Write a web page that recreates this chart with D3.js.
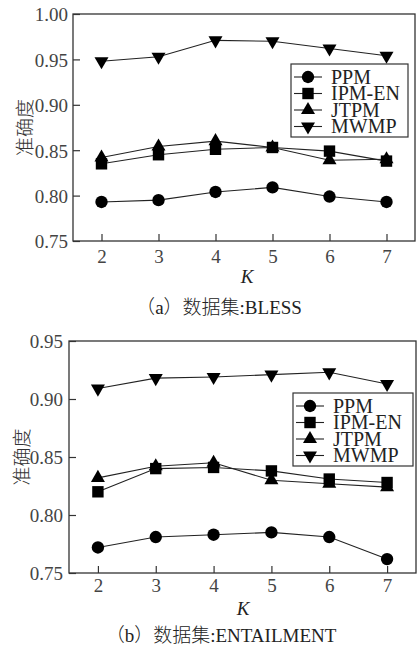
<!DOCTYPE html>
<html>
<head>
<meta charset="utf-8">
<script src="https://cdn.jsdelivr.net/npm/d3@7"></script>
<style>
  body { margin: 0; background: #fff; }
  svg text, svg tspan { font-family: "Liberation Serif", "Times New Roman", serif; fill: #222; }
  svg text .cjk { font-family: "Noto Sans CJK SC"; font-weight: 300; }
</style>
</head>
<body>
<div id="graphicContainer"></div>
<script>

// x values
const kValues = [2, 3, 4, 5, 6, 7]

const seriesNames = ["PPM", "IPM-EN", "JTPM", "MWMP"]

// (a) BLESS
const blessPPM = [0.793, 0.795, 0.804, 0.809, 0.799, 0.793]
const blessIPMEN = [0.835, 0.845, 0.851, 0.853, 0.849, 0.838]
const blessJTPM = [0.842, 0.854, 0.860, 0.853, 0.839, 0.840]
const blessMWMP = [0.948, 0.953, 0.971, 0.970, 0.962, 0.954]
const blessTicks = [0.75, 0.80, 0.85, 0.90, 0.95, 1.00]

// (b) ENTAILMENT
const entPPM = [0.772, 0.781, 0.783, 0.785, 0.781, 0.762]
const entIPMEN = [0.820, 0.840, 0.841, 0.838, 0.831, 0.828]
const entJTPM = [0.832, 0.842, 0.845, 0.830, 0.827, 0.824]
const entMWMP = [0.909, 0.918, 0.919, 0.921, 0.923, 0.913]
const entTicks = [0.75, 0.80, 0.85, 0.90, 0.95]

const symbols = {
  "PPM": d3.symbolCircle,
  "IPM-EN": d3.symbolSquare,
  "JTPM": d3.symbolTriangle,
  "MWMP": d3.symbolTriangle
}
const symbolSize = {
  "PPM": 120,
  "IPM-EN": 130,
  "JTPM": 85,
  "MWMP": 85
}

const svg = d3.select("#graphicContainer")
  .append("svg")
  .attr("width", 417)
  .attr("height", 649)

function drawMarker(g, name, cx, cy) {
  g.append("path")
    .attr("d", d3.symbol().type(symbols[name]).size(symbolSize[name]))
    .attr("transform", "translate(" + cx + "," + cy + ")" + (name == "MWMP" ? " rotate(180)" : ""))
    .attr("fill", "#000")
}

function drawPanel(opts) {

  let { left, right, top, bottom, yDomain, yTicks, series, labelEnd, xLabelBase, kBase, kX, caption, capX, capBase, yLabelX, legend } = opts

  const x = d3.scaleLinear().domain([1.5, 7.5]).range([left, right])
  const y = d3.scaleLinear().domain(yDomain).range([bottom, top])

  const g = svg.append("g")

  // frame
  g.append("rect")
    .attr("x", left)
    .attr("y", top)
    .attr("width", right - left)
    .attr("height", bottom - top)
    .attr("fill", "none")
    .attr("stroke", "#333")
    .attr("stroke-width", 1.3)

  const yAxis = d3.axisLeft(y)
    .tickValues(yTicks)
    .tickFormat(d3.format(".2f"))
    .tickSizeInner(-7)
    .tickSizeOuter(0)

  const ya = g.append("g")
    .attr("transform", "translate(" + left + ",0)")
    .call(yAxis)
  ya.attr("font-family", null)
  ya.select(".domain").remove()
  ya.selectAll(".tick line").attr("stroke", "#333").attr("stroke-width", 1.2)
  ya.selectAll(".tick text")
    .attr("x", labelEnd - left)
    .attr("dy", "0.36em")
    .attr("font-size", 19)
    .style("fill", "#444")

  const xAxis = d3.axisBottom(x)
    .tickValues(kValues)
    .tickFormat(d3.format("d"))
    .tickSizeInner(-7)
    .tickSizeOuter(0)

  const xa = g.append("g")
    .attr("transform", "translate(0," + bottom + ")")
    .call(xAxis)
  xa.attr("font-family", null)
  xa.select(".domain").remove()
  xa.selectAll(".tick line").attr("stroke", "#333").attr("stroke-width", 1.2)
  xa.selectAll(".tick text")
    .attr("y", xLabelBase - bottom)
    .attr("dy", 0)
    .attr("font-size", 19)
    .style("fill", "#444")

  const line = d3.line()
    .x((d, i) => x(kValues[i]))
    .y((d) => y(d))

  series.forEach((s) => {
    g.append("path")
      .datum(s.values)
      .attr("d", line)
      .attr("fill", "none")
      .attr("stroke", "#222")
      .attr("stroke-width", 1.1)
  })

  series.forEach((s) => {
    s.values.forEach((v, i) => {
      drawMarker(g, s.name, x(kValues[i]), y(v))
    })
  })

  // legend
  const lg = g.append("g")
  lg.append("rect")
    .attr("x", legend.x)
    .attr("y", legend.y)
    .attr("width", legend.w)
    .attr("height", legend.h)
    .attr("fill", "#fff")
    .attr("stroke", "#333")
    .attr("stroke-width", 1.2)

  seriesNames.forEach((name, i) => {
    const cy = legend.y + 13 + i * 16.5
    lg.append("line")
      .attr("x1", legend.x + 3)
      .attr("x2", legend.x + 31)
      .attr("y1", cy)
      .attr("y2", cy)
      .attr("stroke", "#222")
      .attr("stroke-width", 1.1)
    drawMarker(lg, name, legend.x + 17, cy)
    lg.append("text")
      .attr("x", legend.x + 40)
      .attr("y", cy + 6.5)
      .attr("font-size", 20)
      .attr("fill", "#222")
      .text(name)
  })

  // axis titles
  g.append("text")
    .attr("x", kX)
    .attr("y", kBase)
    .attr("text-anchor", "middle")
    .attr("font-size", 19)
    .attr("font-style", "italic")
    .text("K")

  g.append("text")
    .attr("transform", "translate(" + yLabelX + "," + ((top + bottom) / 2) + ") rotate(-90)")
    .attr("text-anchor", "middle")
    .attr("font-size", 19)
    .style("font-family", "Noto Sans CJK SC")
    .style("font-weight", 300)
    .style("fill", "#333")
    .text("准确度")

  const cap = g.append("text")
    .attr("x", capX)
    .attr("y", capBase)
    .attr("text-anchor", "middle")
    .attr("font-size", 19)
  cap.append("tspan").attr("class", "cjk").text("（")
  cap.append("tspan").text(caption.letter)
  cap.append("tspan").attr("class", "cjk").text("）数据集")
  cap.append("tspan").text(":" + caption.name)
}

drawPanel({
  left: 73, right: 415, top: 14, bottom: 241,
  yDomain: [0.75, 1.00], yTicks: blessTicks,
  series: [
    { name: "PPM", values: blessPPM },
    { name: "IPM-EN", values: blessIPMEN },
    { name: "JTPM", values: blessJTPM },
    { name: "MWMP", values: blessMWMP }
  ],
  labelEnd: 68, xLabelBase: 263, kBase: 283, kX: 247,
  caption: { letter: "a", name: "BLESS" }, capX: 219, capBase: 314,
  yLabelX: 32,
  legend: { x: 291, y: 64, w: 117, h: 73 }
})

drawPanel({
  left: 69, right: 416, top: 341, bottom: 573,
  yDomain: [0.75, 0.95], yTicks: entTicks,
  series: [
    { name: "PPM", values: entPPM },
    { name: "IPM-EN", values: entIPMEN },
    { name: "JTPM", values: entJTPM },
    { name: "MWMP", values: entMWMP }
  ],
  labelEnd: 63, xLabelBase: 592, kBase: 615, kX: 243,
  caption: { letter: "b", name: "ENTAILMENT" }, capX: 221, capBase: 642,
  yLabelX: 29,
  legend: { x: 293, y: 393, w: 120, h: 73 }
})

</script>
</body>
</html>
